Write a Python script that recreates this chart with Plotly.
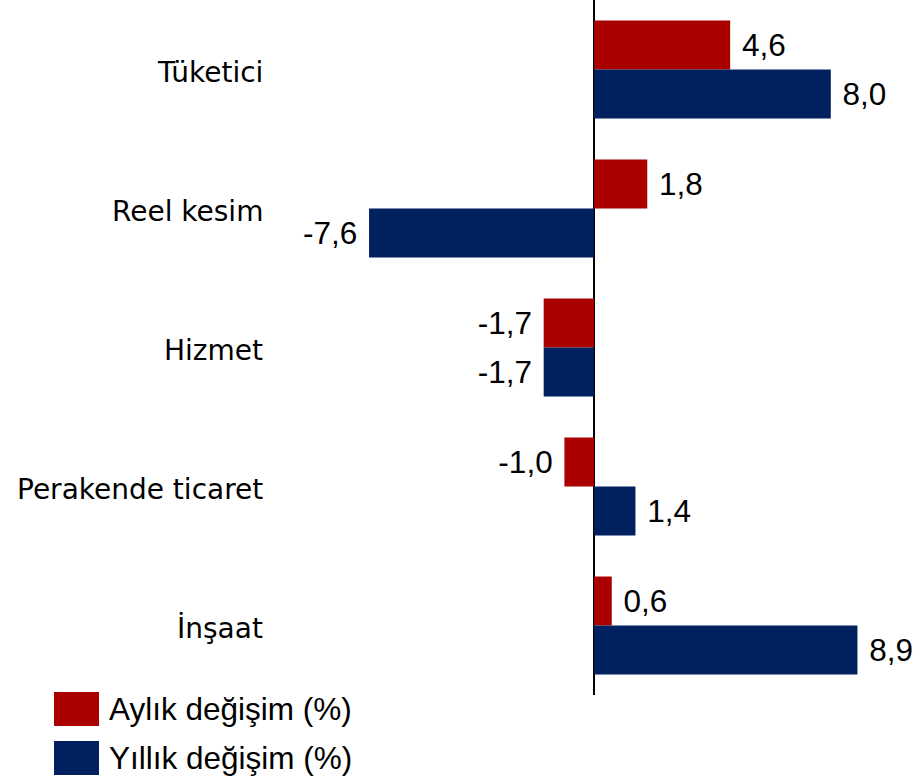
import plotly.graph_objects as go

categories = ["Tüketici", "Reel kesim", "Hizmet", "Perakende ticaret", "İnşaat"]
series_names = ["Aylık değişim (%)", "Yıllık değişim (%)"]
aylik = [4.6, 1.8, -1.7, -1.0, 0.6]
yillik = [8.0, -7.6, -1.7, 1.4, 8.9]
colors = ["#AA0000", "#002060"]

W, H = 922, 779
PLOT_BOTTOM = 84
ZERO_PX = 594
PX_PER_UNIT = 29.6


def fmt(v):
    s = f"{v:.1f}".replace(".", ",")
    return f" {s}" if v >= 0 else f"{s} "


fig = go.Figure()
for name, vals, col in zip(series_names, [aylik, yillik], colors):
    fig.add_trace(go.Bar(
        y=categories, x=vals, orientation="h", name=name,
        marker=dict(color=col, line=dict(width=0)),
        text=[fmt(v) for v in vals], textposition="outside",
        textfont=dict(family="Liberation Sans, Arial", size=31.5, color="black"),
        constraintext="none", cliponaxis=False, showlegend=False,
    ))

x_min = -ZERO_PX / PX_PER_UNIT
x_max = (W - ZERO_PX) / PX_PER_UNIT

# category labels
for c in categories:
    fig.add_annotation(x=265 / W, xref="paper", y=c, yref="y", text=c,
                       showarrow=False, xanchor="right", yanchor="middle",
                       yshift=-3,
                       font=dict(family="DejaVu Sans", size=28, color="black"))

# custom legend
plot_h = H - PLOT_BOTTOM
leg_rows = [(692, 726), (741, 775)]
for (top, bot), name, col in zip(leg_rows, series_names, colors):
    y0 = -(bot - plot_h) / plot_h
    y1 = -(top - plot_h) / plot_h
    fig.add_shape(type="rect", xref="paper", yref="paper",
                  x0=54 / W, x1=99 / W, y0=y0, y1=y1,
                  fillcolor=col, line=dict(width=0))
    fig.add_annotation(x=107 / W, xref="paper", y=(y0 + y1) / 2, yref="paper",
                       text=name, showarrow=False, xanchor="left", yanchor="middle",
                       font=dict(family="Liberation Sans, Arial", size=31.5, color="black"))

fig.update_layout(
    width=W, height=H,
    margin=dict(l=0, r=0, t=0, b=PLOT_BOTTOM, pad=0),
    paper_bgcolor="white", plot_bgcolor="white",
    barmode="group", bargap=0.295, bargroupgap=0,
    xaxis=dict(range=[x_min, x_max], showgrid=False, showticklabels=False,
               zeroline=True, zerolinecolor="black", zerolinewidth=2,
               showline=False, ticks=""),
    yaxis=dict(autorange="reversed", showgrid=False, showticklabels=False,
               showline=False, ticks="", zeroline=False),
)

fig.write_html("out.html")
